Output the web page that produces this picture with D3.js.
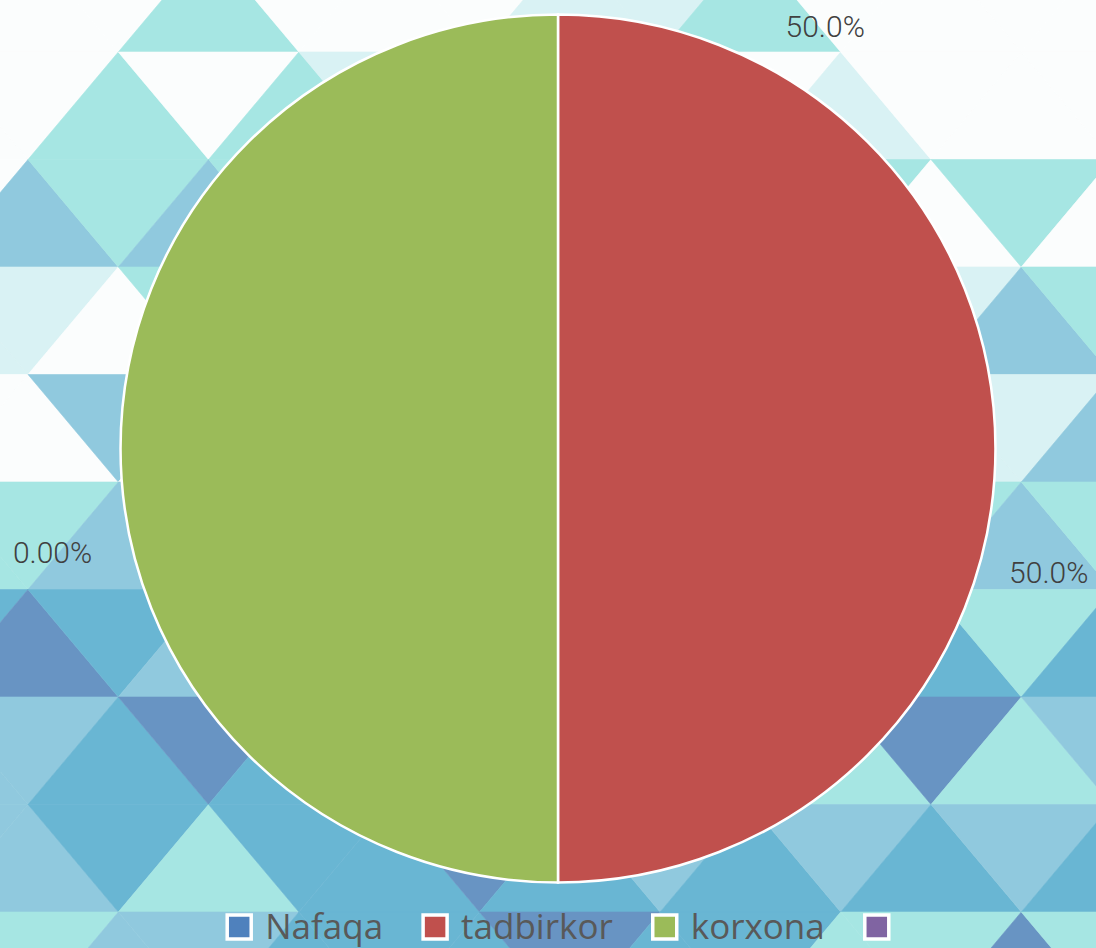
<!DOCTYPE html>
<html>
<head>
<meta charset="utf-8">
<script src="https://cdn.jsdelivr.net/npm/d3@7"></script>
<style>
  body { margin: 0; background: #fff; }
  svg { display: block; }
</style>
</head>
<body>
<div id="chart"></div>
<script>
// chart data
const categories = ["Nafaqa", "tadbirkor", "korxona", ""];
const values = [0, 50, 50, null];
const colors = ["#4f81bd", "#c0504d", "#9bbb59", "#8064a2"];

// background: triangle tiles, one string per row, one letter per triangle
const tileRows = [
  "WWWLWWWPPLWWWWW",
  "WWLWLPPWWWPWWWW",
  "WMLMLLLLLLLWLWW",
  "PPWLLLLLLLPPMLL",
  "WWMWMMMMMMMPPMM",
  "LLMMMMMMMMMLMLL",
  "BDBMBBBBBBBBLBL",
  "MMBDBBBBBBLDLMM",
  "MMBLBBDBMBMBMBM",
  "LLMMBBBDBBLLDLL"
];
const tilePalette = { W: "#fbfdfd", P: "#d9f2f4", L: "#a6e6e3", M: "#90c9de", B: "#69b6d3", D: "#6894c3" };

const width = 1096, height = 948;
const cx = 558, cy = 448.5, radius = 434;

// where the percentage labels sit (angle in degrees from 12 o'clock, distance from centre)
const labelPlace = {
  Nafaqa: { angle: -101.6, r: 516 },
  tadbirkor: { angle: 104.1, r: 506 },
  korxona: { angle: 32.3, r: 500 }
};

const svg = d3.select("#chart").append("svg")
  .attr("width", width)
  .attr("height", height);

// background tiles
const rowH = 107.5, colStep = 90.3, y0 = -55.5, x0 = -62.3;
const tiles = [];
tileRows.forEach((row, i) => {
  row.split("").forEach((k, c) => {
    const yTop = y0 + i * rowH, yBot = yTop + rowH, x = x0 + c * colStep;
    const up = (i + c) % 2 === 1;
    const pts = up
      ? [[x, yTop], [x - colStep, yBot], [x + colStep, yBot]]
      : [[x - colStep, yTop], [x + colStep, yTop], [x, yBot]];
    tiles.push({ pts, fill: tilePalette[k] });
  });
});

svg.append("g")
  .selectAll("path")
  .data(tiles)
  .join("path")
  .attr("d", d => "M" + d.pts.map(p => p.join(",")).join("L") + "Z")
  .attr("fill", d => d.fill)
  .attr("stroke", d => d.fill)
  .attr("stroke-width", 0.6);

// pie (slightly wider than tall, like the original)
const pie = d3.pie().sort(null).value(d => d.value || 0);
const data = categories.map((c, i) => ({ name: c, value: values[i], color: colors[i] }));
const arcs = pie(data);
const arc = d3.arc().innerRadius(0).outerRadius(radius);

const g = svg.append("g").attr("transform", `translate(${cx},${cy})`);

g.append("g")
  .attr("transform", "scale(1.008,1)")
  .selectAll("path.slice")
  .data(arcs.filter(d => d.value > 0))
  .join("path")
  .attr("class", "slice")
  .attr("d", arc)
  .attr("fill", d => d.data.color)
  .attr("stroke", "#fff")
  .attr("stroke-width", 2.5);

// percentage labels
const total = d3.sum(values);
const fmt = d3.format(".3p");
const labelArc = d3.arc();
g.selectAll("text.pct")
  .data(arcs.filter(d => d.data.value !== null))
  .join("text")
  .attr("class", "pct")
  .attr("transform", d => {
    const p = labelPlace[d.data.name];
    const a = p.angle * Math.PI / 180;
    const [x, y] = labelArc.innerRadius(p.r).outerRadius(p.r).centroid({ startAngle: a, endAngle: a });
    return `translate(${x},${y})`;
  })
  .attr("text-anchor", "middle")
  .attr("dy", "0.36em")
  .style("font-family", "Roboto, sans-serif")
  .style("font-weight", 300)
  .style("font-size", "30px")
  .style("fill", "#404040")
  .text(d => fmt(d.data.value / total));

// legend
const legend = svg.append("g");
const box = 24;
let lx = 0;
const items = legend.selectAll("g.item")
  .data(data)
  .join("g")
  .attr("class", "item");

items.append("rect")
  .attr("width", box)
  .attr("height", box)
  .attr("y", -box / 2)
  .attr("fill", d => d.color)
  .attr("stroke", "#fff")
  .attr("stroke-width", 3.5);

items.append("text")
  .attr("x", box + 14)
  .attr("dy", "0.35em")
  .style("font-family", "'Open Sans', sans-serif")
  .style("font-size", "35px")
  .style("fill", "#595959")
  .text(d => d.name);

items.each(function () {
  d3.select(this).attr("transform", `translate(${lx},0)`);
  const w = this.getBBox().width;
  lx += w + 40;
});
const legendW = lx - 40;
legend.attr("transform", `translate(${cx - legendW / 2},927)`);
</script>
</body>
</html>
